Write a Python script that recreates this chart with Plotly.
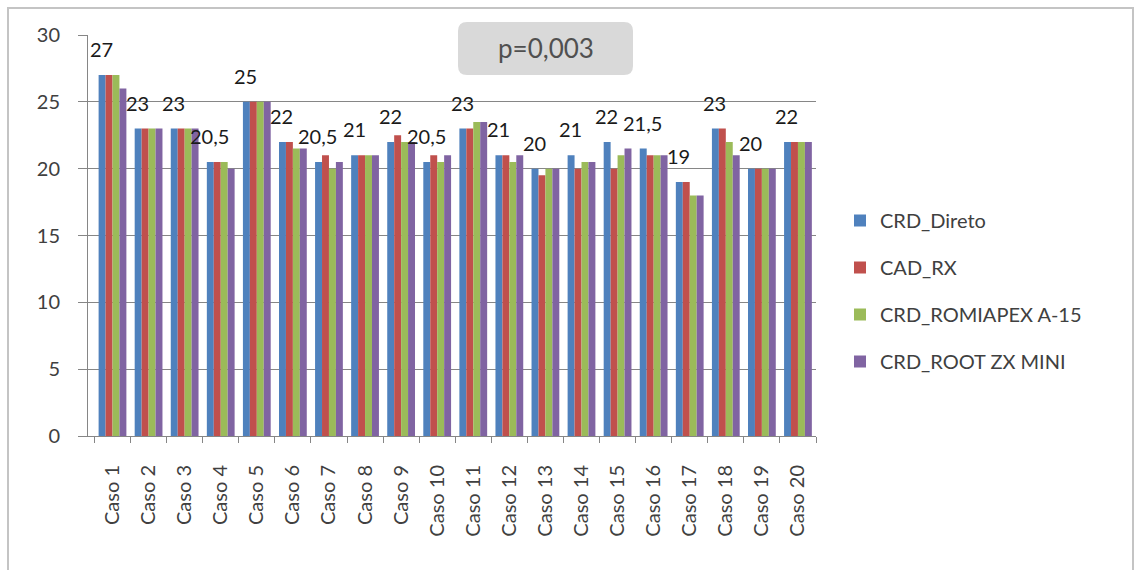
import plotly.graph_objects as go

categories = ["Caso 1", "Caso 2", "Caso 3", "Caso 4", "Caso 5", "Caso 6", "Caso 7",
              "Caso 8", "Caso 9", "Caso 10", "Caso 11", "Caso 12", "Caso 13", "Caso 14",
              "Caso 15", "Caso 16", "Caso 17", "Caso 18", "Caso 19", "Caso 20"]
crd_direto = [27, 23, 23, 20.5, 25, 22, 20.5, 21, 22, 20.5, 23, 21, 20, 21, 22, 21.5, 19, 23, 20, 22]
cad_rx = [27, 23, 23, 20.5, 25, 22, 21, 21, 22.5, 21, 23, 21, 19.5, 20, 20, 21, 19, 23, 20, 22]
crd_romiapex = [27, 23, 23, 20.5, 25, 21.5, 20, 21, 22, 20.5, 23.5, 20.5, 20, 20.5, 21, 21, 18, 22, 20, 22]
crd_root = [26, 23, 23, 20, 25, 21.5, 20.5, 21, 22, 21, 23.5, 21, 20, 20.5, 21.5, 21, 18, 21, 20, 22]
series_names = ["CRD_Direto", "CAD_RX", "CRD_ROMIAPEX A-15", "CRD_ROOT ZX MINI"]
series_colors = ["#4F81BD", "#C0504D", "#9BBB59", "#8064A2"]
p_text = "p=0,003"

W, H = 1137, 570
L, R, T, B = 88, 816, 35, 436
FONT = "Lato"


def px(x):
    return (x - L) / (R - L)


def py(y):
    return (B - y) / (B - T)


fig = go.Figure()
for i, (name, vals, col) in enumerate(zip(series_names,
                                          [crd_direto, cad_rx, crd_romiapex, crd_root],
                                          series_colors)):
    fig.add_trace(go.Bar(x=categories, y=vals, name=name, marker_color=col,
                         marker_line_width=0, legendgroup=str(i)))


def fmt(v):
    s = f"{v:g}"
    return s.replace(".", ",")


annotations = []
for c, v in zip(categories, crd_direto):
    annotations.append(dict(x=c, y=v, xref="x", yref="y", text=fmt(v), showarrow=False,
                            xshift=-11, yshift=26, yanchor="middle",
                            font=dict(family=FONT, size=20, color="#1a1a1a")))

# p-value box
bx0, bx1, by0, by1, r = 458, 633, 22, 75, 9
path = (f"M {px(bx0 + r)},{py(by0)} L {px(bx1 - r)},{py(by0)} "
        f"Q {px(bx1)},{py(by0)} {px(bx1)},{py(by0 + r)} "
        f"L {px(bx1)},{py(by1 - r)} Q {px(bx1)},{py(by1)} {px(bx1 - r)},{py(by1)} "
        f"L {px(bx0 + r)},{py(by1)} Q {px(bx0)},{py(by1)} {px(bx0)},{py(by1 - r)} "
        f"L {px(bx0)},{py(by0 + r)} Q {px(bx0)},{py(by0)} {px(bx0 + r)},{py(by0)} Z")
shapes = [
    dict(type="rect", xref="paper", yref="paper", x0=px(8), x1=px(1133), y0=py(590), y1=py(8),
         line=dict(color="#C4C4C4", width=2), fillcolor="rgba(0,0,0,0)", layer="below"),
    dict(type="path", xref="paper", yref="paper", path=path, fillcolor="#D9D9D9",
         line=dict(width=0), layer="above"),
]
annotations.append(dict(x=px((bx0 + bx1) / 2), y=py((by0 + by1) / 2), xref="paper", yref="paper",
                        text=p_text, showarrow=False, xanchor="center", yanchor="middle",
                        font=dict(family=FONT, size=26, color="#505050")))

fig.update_layout(
    width=W, height=H,
    margin=dict(l=L, r=W - R, t=T, b=H - B, autoexpand=False),
    paper_bgcolor="white", plot_bgcolor="white",
    barmode="group", bargap=0.23, bargroupgap=0,
    font=dict(family=FONT, size=20, color="#404040"),
    shapes=shapes, annotations=annotations,
    legend=dict(x=px(840), y=py(201), xanchor="left", yanchor="top",
                font=dict(family=FONT, size=20, color="#404040"),
                tracegroupgap=18, bgcolor="rgba(0,0,0,0)"),
    xaxis=dict(type="category", tickangle=-90, showline=True, linecolor="#868686", linewidth=1,
               ticks="outside", tickson="boundaries", ticklen=6, tickcolor="#868686",
               ticklabelstandoff=20, showgrid=False,
               tickfont=dict(family=FONT, size=20, color="#404040")),
    yaxis=dict(range=[0, 30], dtick=5, showline=True, linecolor="#868686", linewidth=1,
               ticks="outside", ticklen=9, tickcolor="#868686", showgrid=True,
               gridcolor="#868686", gridwidth=1, zeroline=False, ticklabelstandoff=14,
               tickfont=dict(family=FONT, size=20, color="#404040")),
)

fig.write_html("out.html")
